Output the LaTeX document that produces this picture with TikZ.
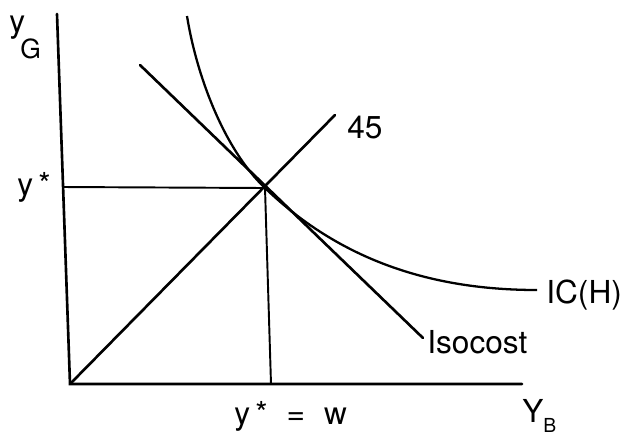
\documentclass[tikz,border=0pt]{standalone}
\usepackage{fontspec}
\setmainfont{TeX Gyre Heros}
\usetikzlibrary{positioning, calc}

\newcommand{\lowsub}[3]{\raisebox{#1}{\fontsize{#2}{#2}\selectfont #3}}

\begin{document}
\begin{tikzpicture}[
  x=0.02cm, y=-0.02cm,
  font=\fontsize{18}{20}\selectfont,
  axis/.style={line width=1.5pt, line cap=round},
  guide/.style={line width=1.1pt},
  curve/.style={line width=1.3pt},
  lbl/.style={inner sep=0pt}
]
  \useasboundingbox (0,0) rectangle (625,434);

  %--- key points ---
  \coordinate (O)     at (70,384);
  \coordinate (ytop)  at (57,14);
  \coordinate (xend)  at (522,384);
  \coordinate (E)     at (265,188);
  \coordinate (ystar) at (63,187);
  \coordinate (w)     at (271,384);
  \coordinate (d45)   at (335,115);
  \coordinate (isoA)  at (140,65);
  \coordinate (isoB)  at (423,338);
  \coordinate (icA)   at (187,16);
  \coordinate (icB)   at (537,290);

  %--- axes ---
  \draw[axis] (ytop) -- (O) -- (xend);

  %--- y* guides ---
  \draw[guide] (ystar) -- (E) -- (w);

  %--- 45 degree line and isocost ---
  \draw[axis] (O) -- (d45);
  \draw[axis] (isoA) -- (isoB);

  %--- indifference curve ---
  \draw[curve] (icA) .. controls (197,78) and (225,150) .. (E)
                     .. controls (345,265) and (440,290) .. (icB);

  %--- labels ---
  \node[lbl, anchor=base west] (lyG) at (9,32)
    {y\hspace{-0.15em}\lowsub{-15pt}{15}{G}};
  \node[lbl, anchor=base west] (lys) at (17,195) {y\,*};
  \node[lbl, anchor=base west] (lyw) at (234,424)
    {y\,*\hspace{0.6em}=\hspace{0.6em}w};
  \node[lbl, anchor=base west] (lYB) at (522,422)
    {Y\lowsub{-6pt}{11}{B}};
  \node[lbl, anchor=west] (l45) at (347,128) {45};
  \node[lbl, anchor=west] (lIso) at (427,342) {Isocost};
  \node[lbl, anchor=west] (lIC) at (546,295) {IC(H)};

\end{tikzpicture}
\end{document}
